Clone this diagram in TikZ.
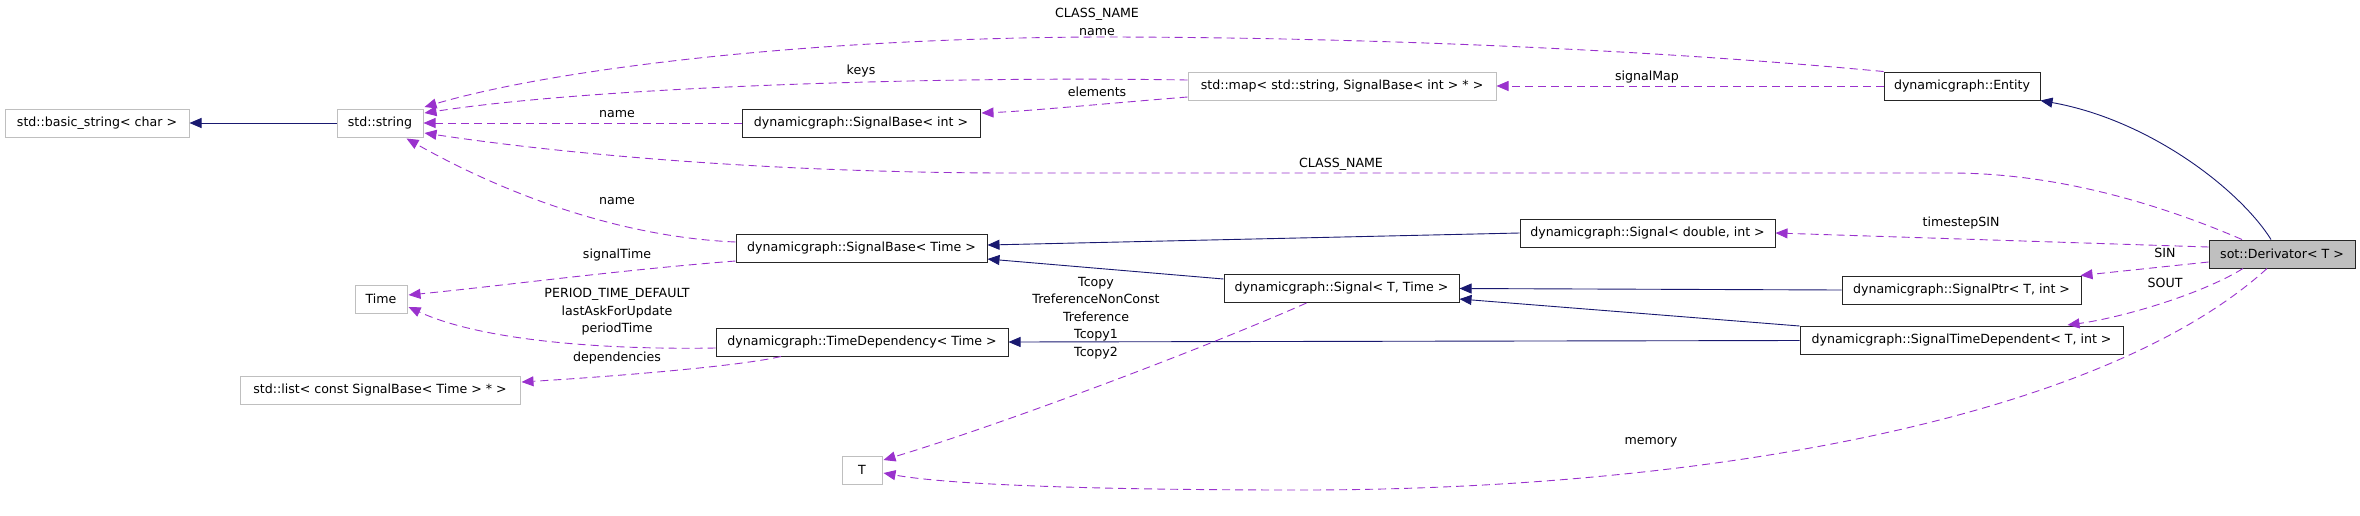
\documentclass[tikz,border=0pt]{standalone}
\usepackage{fontspec}
\setmainfont{DejaVu Sans}
\usetikzlibrary{arrows.meta,calc}
\definecolor{inhblue}{HTML}{191970}
\definecolor{usepurple}{HTML}{9A32CD}
\definecolor{undocgray}{HTML}{BFBFBF}
\tikzstyle{cls} = [draw=black!85,line width=1pt,fill=white,minimum height=28pt,inner xsep=4pt,inner ysep=0pt,font=\fontsize{12.6}{15}\selectfont]
\tikzstyle{ext} = [cls,draw=undocgray]
\tikzstyle{cur} = [cls,fill=undocgray]
\tikzstyle{inh} = [draw=inhblue,line width=0.9pt,-{Triangle[length=12pt,width=10pt]}]
\tikzstyle{mbr} = [draw=usepurple,line width=0.9pt,dash pattern=on 8pt off 5pt,-{Triangle[length=12pt,width=10pt]}]
\tikzstyle{lbl} = [align=center,inner sep=0pt,font=\fontsize{12.6}{17.5}\selectfont]

\begin{document}
\begin{tikzpicture}[x=1pt,y=1pt,yscale=-1]
\useasboundingbox (0,0) rectangle (2360,515);

% classes
\node[ext,minimum width=184pt] (basicstr) at (97,123) {std::basic\_string< char >};
\node[ext,minimum width=86pt] (stdstr) at (380,123) {std::string};
\node[cls,minimum width=238pt] (sbint) at (861,123) {dynamicgraph::SignalBase< int >};
\node[ext,minimum width=308pt] (sigmap) at (1342,86) {std::map< std::string, SignalBase< int > * >};
\node[cls,minimum width=156pt] (entity) at (1962,86) {dynamicgraph::Entity};
\node[cur,minimum width=146pt] (deriv) at (2282,254) {sot::Derivator< T >};
\node[cls,minimum width=255pt] (sigdbl) at (1647.5,233) {dynamicgraph::Signal< double, int >};
\node[cls,minimum width=239pt] (sigptr) at (1961.5,290) {dynamicgraph::SignalPtr< T, int >};
\node[cls,minimum width=323pt] (sigtd) at (1961.5,340.5) {dynamicgraph::SignalTimeDependent< T, int >};
\node[cls,minimum width=251pt] (sbtime) at (861.5,248) {dynamicgraph::SignalBase< Time >};
\node[cls,minimum width=235pt] (sigT) at (1341.5,288.5) {dynamicgraph::Signal< T, Time >};
\node[cls,minimum width=292pt] (tdep) at (862,342) {dynamicgraph::TimeDependency< Time >};
\node[ext,minimum width=52pt] (timecls) at (381,299) {Time};
\node[ext,minimum width=280pt] (siglist) at (380,390) {std::list< const SignalBase< Time > * >};
\node[ext,minimum width=40pt] (tcls) at (862,470) {T};

% inheritance
\draw[inh] (stdstr) -- (basicstr);
\draw[inh] ($(deriv.north)+(-11,0)$) .. controls (2240,190) and (2150,120) .. (entity.south east);
\draw[inh] (sigdbl.west) -- ($(sbtime.east)+(0,-3)$);
\draw[inh] ($(sigT.west)+(0,-9.5)$) -- ($(sbtime.east)+(0,11)$);
\draw[inh] (sigptr.west) -- (sigT.east);
\draw[inh] (sigtd.north west) -- ($(sigT.east)+(0,10.5)$);
\draw[inh] (sigtd.west) -- (tdep.east);

% members
\draw[mbr] (entity.north west) .. controls (1600,45) and (1300,37) .. (1100,37) .. controls (800,38) and (550,70) .. ($(stdstr.east)+(1,-16)$);
\draw[mbr] ($(sigmap.west)+(0,-6)$) .. controls (950,76) and (600,86) .. ($(stdstr.east)+(1,-10)$);
\draw[mbr] ($(sigmap.west)+(0,11)$) .. controls (1100,104) and (1030,111) .. ($(sbint.east)+(1,-10)$);
\draw[mbr] (entity.west) -- (sigmap.east);
\draw[mbr] (sbint.west) -- (stdstr.east);
\draw[mbr] ($(deriv.north)+(-40,0)$) .. controls (2150,200) and (2050,173) .. (1950,173) -- (1000,173) .. controls (750,172) and (550,152) .. ($(stdstr.east)+(1,10)$);
\draw[mbr] ($(sbtime.west)+(0,-6)$) .. controls (600,236) and (480,180) .. ($(stdstr.south east)+(-17,1)$);
\draw[mbr] ($(sbtime.west)+(0,13)$) .. controls (620,270) and (500,286) .. ($(timecls.east)+(1,-4)$);
\draw[mbr] ($(tdep.west)+(0,6)$) .. controls (600,350) and (480,340) .. ($(timecls.east)+(1,8)$);
\draw[mbr] ($(tdep.south)+(-81,0)$) .. controls (740,366) and (620,376) .. ($(siglist.east)+(1,-8)$);
\draw[mbr] ($(sigT.south)+(-35,0)$) .. controls (1200,350) and (1000,425) .. ($(tcls.east)+(1,-10)$);
\draw[mbr] ($(deriv.south)+(-15,0)$) .. controls (2100,420) and (1700,490) .. (1300,490) .. controls (1100,490) and (950,485) .. ($(tcls.east)+(1,3)$);
\draw[mbr] ($(deriv.west)+(0,-7)$) -- (sigdbl.east);
\draw[mbr] ($(deriv.west)+(0,8)$) -- ($(sigptr.north east)+(-1,0)$);
\draw[mbr] ($(deriv.south)+(-39,0)$) .. controls (2200,295) and (2120,318) .. ($(sigtd.north)+(106,-1)$);

% edge labels
\node[lbl] (lclsname) at (1097,22) {CLASS\_NAME\\name};
\node[lbl] (lkeys) at (861,71) {keys};
\node[lbl] (lelem) at (1097,92) {elements};
\node[lbl] (lsigmap) at (1647,77) {signalMap};
\node[lbl] (lname) at (617,114) {name};
\node[lbl] (lclsname2) at (1341,164) {CLASS\_NAME};
\node[lbl] (lname2) at (617,201) {name};
\node[lbl] (ltstep) at (1961,223) {timestepSIN};
\node[lbl] (lsigtime) at (617,255) {signalTime};
\node[lbl] (lsin) at (2165,253) {SIN};
\node[lbl] (lsout) at (2165,283) {SOUT};
\node[lbl] (ltcopy) at (1096,318) {Tcopy\\TreferenceNonConst\\Treference\\Tcopy1\\Tcopy2};
\node[lbl] (lperiod) at (617,312) {PERIOD\_TIME\_DEFAULT\\lastAskForUpdate\\periodTime};
\node[lbl] (ldeps) at (617,358) {dependencies};
\node[lbl] (lmem) at (1651,442) {memory};

\end{tikzpicture}
\end{document}
